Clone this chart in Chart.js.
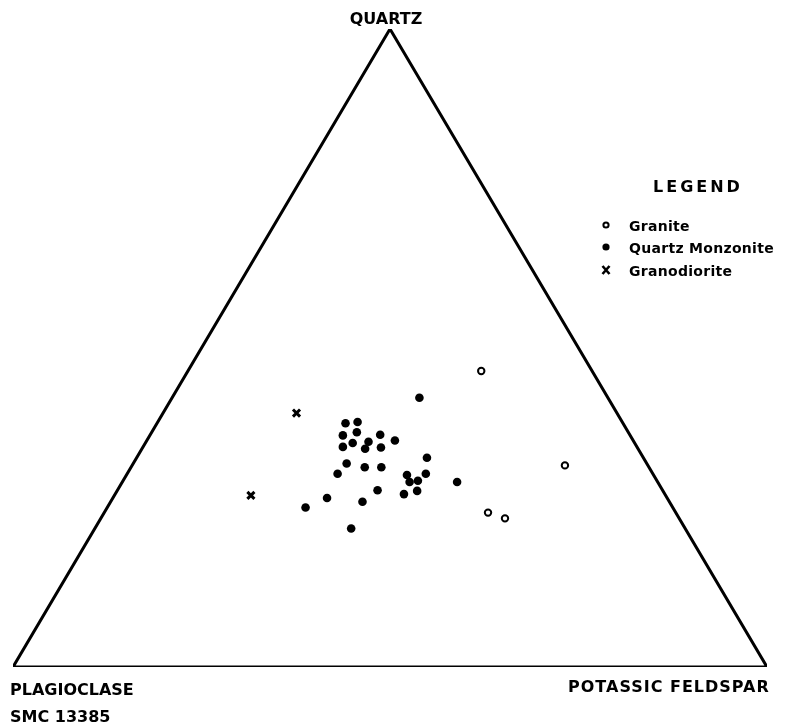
<!DOCTYPE html>
<html>
<head>
<meta charset="utf-8">
<title>Quartz - Plagioclase - Potassic Feldspar</title>
<script src="https://cdn.jsdelivr.net/npm/chart.js@4.4.1/dist/chart.umd.min.js"></script>
<style>
  body { margin: 0; background: #fff; }
  #wrap { width: 798px; height: 726px; }
</style>
</head>
<body>
<div id="wrap"><canvas id="ternary" width="798" height="726"></canvas></div>
<script>
// modal composition, percent (quartz and potassic feldspar; plagioclase is the rest)
const graniteQuartz = [46.4, 31.6, 24.2, 23.3];
const graniteKspar = [38.9, 57.4, 50.9, 53.6];

const monzoniteQuartz = [42.2, 38.2, 38.4, 36.3, 36.8, 36.4, 35.5, 35.1, 35.3, 34.5,
    34.2, 34.4, 32.8, 31.9, 31.3, 31.3, 30.3, 30.1, 30.3, 29.0,
    29.2, 29.0, 27.7, 27.1, 27.6, 26.5, 25.9, 25.0, 21.7];
const monzoniteKspar = [32.8, 25.0, 26.5, 25.6, 27.2, 30.5, 32.9, 27.5, 29.5, 26.5,
    29.6, 31.6, 38.5, 28.3, 31.0, 33.2, 27.9, 37.2, 39.6, 38.1,
    39.1, 44.4, 34.5, 38.3, 39.8, 28.4, 33.4, 26.3, 34.0];

const granodioriteQuartz = [39.8, 26.9];
const granodioriteKspar = [17.7, 18.1];

// corners: plagioclase, potassic feldspar, quartz
const cornerQuartz = [0, 0, 100, 0];
const cornerKspar = [0, 100, 0, 0];

const legendLabels = ['Granite', 'Quartz Monzonite', 'Granodiorite'];

// ternary -> cartesian (base 0..100, apex at height 100)
function toXY(quartz, kspar) {
    return quartz.map((q, i) => ({ x: kspar[i] + q / 2, y: q }));
}

// text labels and the legend block
const labelPlugin = {
    id: 'labels',
    afterDraw(chart) {
        const ctx = chart.ctx;
        ctx.save();
        ctx.fillStyle = '#000';
        ctx.textBaseline = 'alphabetic';

        ctx.font = 'bold 16px "DejaVu Sans"';
        ctx.textAlign = 'center';
        ctx.fillText('QUARTZ', 386, 24);

        ctx.textAlign = 'left';
        ctx.fillText('PLAGIOCLASE', 10, 695);
        ctx.fillText('SMC 13385', 10, 722);
        ctx.letterSpacing = '1px';
        ctx.fillText('POTASSIC FELDSPAR', 568, 692);

        ctx.letterSpacing = '3px';
        ctx.fillText('LEGEND', 653, 192);

        ctx.letterSpacing = '0.3px';
        ctx.font = 'bold 14px "DejaVu Sans"';
        const rows = [231, 253, 276];
        legendLabels.forEach((t, i) => ctx.fillText(t, 629, rows[i]));

        // legend markers
        ctx.strokeStyle = '#000';
        ctx.lineWidth = 2;
        ctx.beginPath();
        ctx.arc(606, rows[0] - 6, 2.6, 0, Math.PI * 2);
        ctx.stroke();
        ctx.beginPath();
        ctx.arc(606, rows[1] - 6, 3.6, 0, Math.PI * 2);
        ctx.fill();
        ctx.lineWidth = 2.6;
        ctx.beginPath();
        ctx.moveTo(602.5, rows[2] - 10); ctx.lineTo(609.5, rows[2] - 2);
        ctx.moveTo(609.5, rows[2] - 10); ctx.lineTo(602.5, rows[2] - 2);
        ctx.stroke();
        ctx.restore();
    }
};

new Chart(document.getElementById('ternary'), {
    type: 'scatter',
    data: {
        datasets: [
            {
                label: 'Triangle',
                type: 'line',
                data: toXY(cornerQuartz, cornerKspar),
                borderColor: '#000',
                borderWidth: 3,
                pointRadius: 0,
                fill: false,
                tension: 0
            },
            {
                label: legendLabels[0],
                data: toXY(graniteQuartz, graniteKspar),
                pointStyle: 'circle',
                pointRadius: 3.2,
                borderWidth: 2,
                borderColor: '#000',
                backgroundColor: '#fff'
            },
            {
                label: legendLabels[1],
                data: toXY(monzoniteQuartz, monzoniteKspar),
                pointStyle: 'circle',
                pointRadius: 4.3,
                borderWidth: 0,
                backgroundColor: '#000'
            },
            {
                label: legendLabels[2],
                data: toXY(granodioriteQuartz, granodioriteKspar),
                pointStyle: 'crossRot',
                pointRadius: 5,
                borderWidth: 3,
                borderColor: '#000'
            }
        ]
    },
    options: {
        responsive: false,
        animation: false,
        layout: { padding: { left: 13, right: 31, top: 29, bottom: 59 } },
        scales: {
            x: { type: 'linear', min: 0, max: 100, display: false },
            y: { type: 'linear', min: 0, max: 100, display: false }
        },
        plugins: {
            legend: { display: false },
            tooltip: { enabled: false }
        }
    },
    plugins: [labelPlugin]
});
</script>
</body>
</html>
